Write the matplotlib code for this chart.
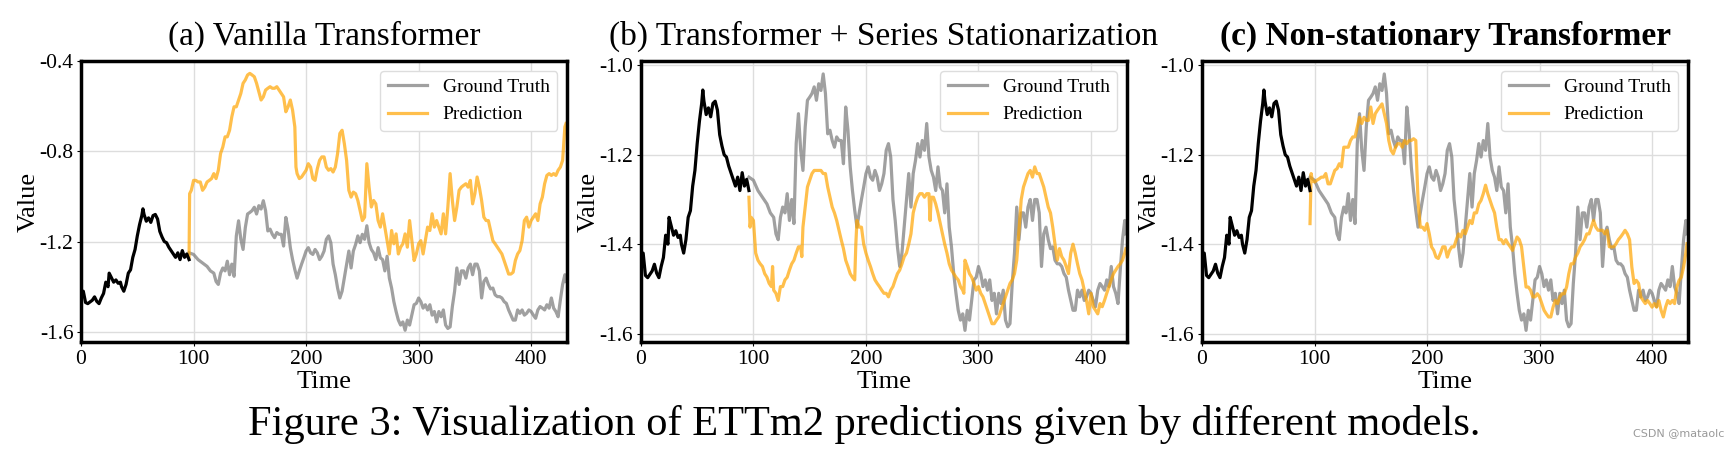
import numpy as np
import matplotlib
matplotlib.use('Agg')
import matplotlib.pyplot as plt

# input window (black), shared by all three panels
in_t = [0, 2, 4, 6, 10, 12, 14, 16, 18, 20, 22, 24, 25, 27, 29, 31, 33, 35, 36, 38,
        40, 42, 44, 46, 48, 50, 52, 54, 55, 56, 58, 60, 62, 64, 66, 68, 70, 72, 74, 76,
        78, 80, 82, 84, 86, 88, 90, 92, 94, 96]
in_v = [-1.42, -1.42, -1.47, -1.475, -1.46, -1.445, -1.465, -1.475, -1.45, -1.43,
        -1.38, -1.40, -1.34, -1.36, -1.38, -1.37, -1.385, -1.38, -1.40, -1.42,
        -1.39, -1.34, -1.325, -1.27, -1.235, -1.175, -1.125, -1.085, -1.055, -1.08,
        -1.11, -1.095, -1.115, -1.085, -1.08, -1.10, -1.155, -1.18, -1.20, -1.205,
        -1.225, -1.24, -1.255, -1.27, -1.25, -1.28, -1.24, -1.27, -1.255, -1.28]

# ground truth (grey)
gt_t = [96, 100, 104, 108, 112, 115, 118, 120, 122, 124, 126, 128, 130, 132, 134, 136,
        138, 140, 142, 144, 146, 148, 150, 152, 154, 156, 158, 160, 162, 164, 166, 168,
        170, 172, 174, 176, 178, 180, 182, 184, 186, 188, 190, 192, 194, 196, 198, 200,
        202, 204, 206, 208, 210, 212, 214, 216, 218, 220, 222, 224, 226, 228, 230, 232,
        234, 236, 238, 240, 242, 244, 246, 248, 250, 252, 254, 256, 258, 260, 262, 264,
        266, 268, 270, 272, 274, 276, 278, 280, 282, 284, 286, 288, 290, 292, 294, 296,
        298, 300, 302, 304, 306, 308, 310, 312, 314, 316, 318, 320, 322, 324, 326, 328,
        330, 332, 334, 336, 338, 340, 342, 344, 346, 348, 350, 352, 354, 356, 358, 360,
        362, 364, 366, 368, 370, 372, 374, 376, 378, 380, 382, 384, 386, 388, 390, 392,
        394, 396, 398, 400, 402, 404, 406, 408, 410, 412, 414, 416, 418, 420, 422, 424,
        426, 428, 430, 431]
gt_v = [-1.25, -1.257, -1.28, -1.295, -1.31, -1.33, -1.34, -1.377, -1.39, -1.34,
        -1.317, -1.33, -1.287, -1.347, -1.30, -1.354, -1.175, -1.108, -1.19, -1.235,
        -1.138, -1.078, -1.071, -1.063, -1.048, -1.078, -1.041, -1.056, -1.019, -1.063,
        -1.153, -1.145, -1.168, -1.183, -1.16, -1.168, -1.168, -1.22, -1.093, -1.145,
        -1.227, -1.28, -1.324, -1.362, -1.33, -1.30, -1.272, -1.242, -1.227, -1.25,
        -1.257, -1.235, -1.25, -1.28, -1.265, -1.242, -1.19, -1.175, -1.205, -1.30,
        -1.347, -1.406, -1.45, -1.42, -1.36, -1.30, -1.242, -1.317, -1.242, -1.213,
        -1.175, -1.205, -1.168, -1.19, -1.13, -1.205, -1.235, -1.25, -1.28, -1.227,
        -1.272, -1.28, -1.33, -1.265, -1.362, -1.406, -1.466, -1.51, -1.548, -1.57,
        -1.556, -1.593, -1.548, -1.57, -1.526, -1.48, -1.474, -1.45, -1.466, -1.495,
        -1.48, -1.503, -1.48, -1.526, -1.51, -1.556, -1.51, -1.533, -1.503, -1.57,
        -1.585, -1.578, -1.488, -1.42, -1.317, -1.39, -1.33, -1.33, -1.362, -1.317,
        -1.30, -1.347, -1.30, -1.30, -1.33, -1.45, -1.377, -1.362, -1.39, -1.41,
        -1.406, -1.436, -1.444, -1.444, -1.45, -1.466, -1.474, -1.503, -1.526, -1.548,
        -1.548, -1.503, -1.518, -1.503, -1.526, -1.518, -1.503, -1.51, -1.526, -1.54,
        -1.503, -1.488, -1.495, -1.503, -1.48, -1.495, -1.45, -1.495, -1.51, -1.533,
        -1.458, -1.39, -1.347, -1.377]

# (a) Vanilla Transformer prediction
pa_t = [96, 96.5, 98, 100, 102, 104, 106, 108, 110, 112, 114, 116, 118, 120, 122, 124,
        126, 128, 130, 132, 134, 136, 138, 140, 142, 144, 146, 148, 150, 152, 154, 156,
        158, 160, 162, 164, 166, 168, 170, 172, 174, 176, 178, 180, 182, 184, 186, 188,
        190, 191, 192, 194, 196, 198, 200, 202, 204, 206, 208, 210, 212, 214, 216, 218,
        220, 222, 224, 226, 228, 230, 232, 234, 236, 238, 240, 242, 244, 246, 248, 250,
        252, 253, 254, 256, 258, 260, 262, 264, 266, 268, 270, 272, 274, 276, 278, 280,
        282, 284, 286, 288, 290, 292, 294, 296, 298, 300, 302, 304, 306, 308, 310, 312,
        314, 316, 318, 320, 322, 324, 326, 328, 330, 332, 334, 336, 338, 340, 342, 344,
        346, 348, 350, 352, 354, 356, 358, 360, 362, 364, 366, 368, 370, 372, 374, 376,
        378, 380, 382, 384, 386, 388, 390, 392, 394, 396, 398, 400, 402, 404, 406, 408,
        410, 412, 414, 416, 418, 420, 422, 424, 426, 428, 430, 431]
pa_v = [-1.27, -0.988, -0.973, -0.929, -0.929, -0.936, -0.936, -0.973, -0.959, -0.936,
        -0.929, -0.921, -0.899, -0.921, -0.884, -0.81, -0.781, -0.736, -0.736, -0.707,
        -0.647, -0.603, -0.603, -0.573, -0.544, -0.499, -0.484, -0.462, -0.455, -0.462,
        -0.47, -0.499, -0.536, -0.573, -0.559, -0.529, -0.521, -0.514, -0.521, -0.521,
        -0.514, -0.529, -0.544, -0.559, -0.625, -0.603, -0.573, -0.618, -0.692, -0.87,
        -0.899, -0.921, -0.914, -0.899, -0.884, -0.855, -0.87, -0.921, -0.929, -0.877,
        -0.84, -0.825, -0.825, -0.87, -0.884, -0.877, -0.892, -0.87, -0.81, -0.721,
        -0.707, -0.766, -0.84, -0.973, -1.003, -0.981, -0.988, -1.018, -1.062, -1.107,
        -1.092, -0.973, -0.855, -0.959, -1.047, -1.018, -1.033, -1.107, -1.136, -1.077,
        -1.136, -1.196, -1.255, -1.151, -1.21, -1.166, -1.255, -1.225, -1.21, -1.166,
        -1.225, -1.107, -1.196, -1.284, -1.255, -1.21, -1.196, -1.255, -1.196, -1.136,
        -1.151, -1.077, -1.136, -1.107, -1.136, -1.166, -1.077, -1.166, -1.047, -0.899,
        -1.018, -1.107, -1.047, -0.973, -0.959, -0.951, -0.944, -0.959, -0.929, -1.033,
        -0.988, -0.914, -0.959, -1.018, -1.092, -1.107, -1.107, -1.151, -1.196, -1.21,
        -1.225, -1.24, -1.255, -1.284, -1.314, -1.344, -1.344, -1.336, -1.284, -1.255,
        -1.24, -1.196, -1.107, -1.092, -1.136, -1.107, -1.092, -1.077, -1.107, -1.033,
        -1.003, -0.944, -0.907, -0.899, -0.907, -0.899, -0.907, -0.884, -0.87, -0.84,
        -0.692, -0.677]

# (b) Transformer + Series Stationarization prediction
pb_t = [96, 97, 98, 100, 102, 104, 106, 108, 110, 112, 114, 116, 117, 118, 120, 122,
        124, 126, 128, 130, 132, 134, 136, 138, 140, 142, 143, 144, 146, 148, 150, 152,
        154, 156, 158, 160, 162, 164, 166, 168, 170, 172, 174, 176, 178, 180, 182, 184,
        186, 188, 190, 191, 192, 194, 196, 198, 200, 202, 204, 206, 208, 210, 212, 214,
        216, 218, 220, 222, 224, 226, 228, 230, 232, 234, 236, 238, 240, 242, 244, 246,
        248, 250, 252, 254, 256, 257, 258, 260, 262, 264, 266, 268, 270, 272, 274, 276,
        278, 280, 282, 284, 286, 287, 288, 290, 292, 294, 296, 298, 300, 302, 304, 306,
        308, 310, 312, 314, 316, 318, 320, 322, 324, 326, 328, 330, 332, 334, 336, 338,
        340, 342, 344, 346, 348, 350, 352, 354, 356, 358, 360, 362, 364, 366, 368, 370,
        372, 374, 376, 378, 380, 382, 384, 386, 388, 390, 392, 394, 396, 398, 400, 402,
        404, 406, 408, 410, 412, 414, 416, 418, 420, 422, 424, 426, 428, 430, 431]
pb_v = [-1.295, -1.362, -1.34, -1.347, -1.42, -1.436, -1.444, -1.45, -1.466, -1.474,
        -1.488, -1.495, -1.45, -1.503, -1.51, -1.526, -1.495, -1.495, -1.48, -1.474,
        -1.458, -1.444, -1.436, -1.42, -1.406, -1.406, -1.428, -1.362, -1.317, -1.272,
        -1.257, -1.242, -1.235, -1.235, -1.235, -1.235, -1.242, -1.242, -1.272, -1.295,
        -1.317, -1.33, -1.347, -1.369, -1.39, -1.41, -1.436, -1.45, -1.466, -1.474,
        -1.48, -1.40, -1.347, -1.362, -1.362, -1.40, -1.42, -1.436, -1.45, -1.466,
        -1.48, -1.488, -1.495, -1.503, -1.51, -1.51, -1.518, -1.503, -1.495, -1.48,
        -1.466, -1.458, -1.444, -1.428, -1.42, -1.40, -1.377, -1.33, -1.31, -1.295,
        -1.287, -1.287, -1.295, -1.287, -1.287, -1.347, -1.295, -1.295, -1.31, -1.33,
        -1.354, -1.377, -1.40, -1.42, -1.444, -1.458, -1.466, -1.474, -1.48, -1.495,
        -1.503, -1.51, -1.436, -1.45, -1.466, -1.474, -1.488, -1.503, -1.495, -1.51,
        -1.518, -1.533, -1.548, -1.563, -1.578, -1.578, -1.57, -1.563, -1.548, -1.533,
        -1.518, -1.503, -1.488, -1.48, -1.466, -1.436, -1.369, -1.30, -1.272, -1.257,
        -1.242, -1.235, -1.25, -1.227, -1.242, -1.242, -1.257, -1.272, -1.295, -1.317,
        -1.33, -1.362, -1.40, -1.436, -1.41, -1.428, -1.436, -1.45, -1.466, -1.42,
        -1.40, -1.42, -1.444, -1.466, -1.48, -1.503, -1.526, -1.556, -1.51, -1.54,
        -1.548, -1.556, -1.533, -1.54, -1.526, -1.51, -1.495, -1.48, -1.466, -1.458,
        -1.45, -1.444, -1.436, -1.42, -1.41]

# (c) Non-stationary Transformer prediction
pc_t = [96, 97, 98, 100, 102, 104, 106, 108, 110, 112, 114, 116, 118, 120, 122, 124,
        126, 128, 130, 132, 134, 136, 138, 140, 142, 144, 146, 148, 150, 152, 154, 156,
        158, 160, 162, 164, 166, 168, 170, 172, 174, 176, 178, 180, 182, 184, 186, 188,
        190, 192, 194, 196, 198, 200, 202, 204, 206, 208, 210, 212, 214, 216, 218, 220,
        222, 224, 226, 228, 230, 232, 234, 236, 238, 240, 242, 244, 246, 248, 250, 252,
        254, 256, 258, 260, 262, 264, 266, 268, 270, 272, 274, 276, 278, 280, 282, 284,
        286, 288, 290, 292, 294, 296, 298, 300, 302, 304, 306, 308, 310, 312, 314, 316,
        318, 320, 322, 324, 326, 328, 330, 332, 334, 336, 338, 340, 342, 344, 346, 348,
        350, 352, 354, 356, 358, 360, 362, 364, 366, 368, 370, 372, 374, 376, 378, 380,
        382, 384, 386, 388, 390, 392, 394, 396, 398, 400, 402, 404, 406, 408, 410, 412,
        414, 416, 418, 420, 422, 424, 426, 428, 430, 431]
pc_v = [-1.354, -1.242, -1.257, -1.261, -1.257, -1.254, -1.25, -1.25, -1.242, -1.265,
        -1.265, -1.25, -1.235, -1.231, -1.22, -1.227, -1.183, -1.183, -1.183, -1.168,
        -1.16, -1.16, -1.138, -1.116, -1.13, -1.116, -1.123, -1.123, -1.093, -1.13,
        -1.108, -1.10, -1.093, -1.086, -1.108, -1.13, -1.168, -1.19, -1.198, -1.183,
        -1.175, -1.175, -1.183, -1.168, -1.175, -1.168, -1.168, -1.164, -1.168, -1.302,
        -1.362, -1.362, -1.369, -1.354, -1.377, -1.406, -1.414, -1.429, -1.432, -1.42,
        -1.406, -1.406, -1.429, -1.414, -1.406, -1.406, -1.39, -1.377, -1.384, -1.369,
        -1.377, -1.362, -1.347, -1.354, -1.33, -1.33, -1.31, -1.302, -1.287, -1.268,
        -1.287, -1.302, -1.317, -1.33, -1.362, -1.39, -1.39, -1.399, -1.39, -1.399,
        -1.406, -1.414, -1.399, -1.384, -1.39, -1.406, -1.451, -1.496, -1.496, -1.503,
        -1.518, -1.518, -1.511, -1.518, -1.533, -1.548, -1.556, -1.563, -1.563, -1.541,
        -1.526, -1.533, -1.518, -1.511, -1.511, -1.496, -1.466, -1.444, -1.444, -1.429,
        -1.42, -1.406, -1.399, -1.39, -1.377, -1.377, -1.362, -1.347, -1.362, -1.369,
        -1.369, -1.369, -1.377, -1.369, -1.406, -1.406, -1.406, -1.399, -1.39, -1.384,
        -1.377, -1.369, -1.377, -1.39, -1.451, -1.488, -1.481, -1.488, -1.518, -1.526,
        -1.533, -1.526, -1.533, -1.541, -1.533, -1.541, -1.526, -1.548, -1.563, -1.541,
        -1.526, -1.533, -1.526, -1.533, -1.496, -1.481, -1.474, -1.451, -1.42, -1.399]

titles = ['(a) Vanilla Transformer', '(b) Transformer + Series Stationarization',
          '(c) Non-stationary Transformer']
preds = [(pa_t, pa_v), (pb_t, pb_v), (pc_t, pc_v)]
yticks = [[-1.6, -1.2, -0.8, -0.4], [-1.6, -1.4, -1.2, -1.0], [-1.6, -1.4, -1.2, -1.0]]
ylims = [(-1.645, -0.4), (-1.619, -0.99), (-1.619, -0.99)]

plt.rcParams['font.family'] = ['Liberation Serif', 'DejaVu Serif']
plt.rcParams['axes.unicode_minus'] = False

fig = plt.figure(figsize=(17.28, 4.54), dpi=100)
lefts = [0.0469, 0.3709, 0.6956]

for i in range(3):
    ax = fig.add_axes([lefts[i], 0.2467, 0.2813, 0.619])
    ax.plot(gt_t, gt_v, color='grey', alpha=0.75, lw=2.3, label='Ground Truth')
    ax.plot(preds[i][0], preds[i][1], color='orange', alpha=0.7, lw=2.3, label='Prediction')
    ax.plot(in_t, in_v, color='black', lw=2.3)
    ax.set_xlim(0, 432)
    ax.set_ylim(*ylims[i])
    ax.set_xticks([0, 100, 200, 300, 400])
    ax.set_yticks(yticks[i])
    ax.set_yticklabels(['%.1f' % y for y in yticks[i]])
    ax.tick_params(labelsize=15.5, length=3, pad=2.5)
    ax.grid(True, color='#dddddd', lw=1)
    for s in ax.spines.values():
        s.set_linewidth(2.5)
    ax.set_xlabel('Time', fontsize=19, labelpad=2)
    ax.set_ylabel('Value', fontsize=19, labelpad=0)
    ax.set_title(titles[i], fontsize=24, pad=12,
                 fontweight='bold' if i == 2 else 'normal')
    ax.legend(loc='upper right', fontsize=14, framealpha=1, edgecolor='#dddddd')

fig.text(0.5, 0.065, 'Figure 3: Visualization of ETTm2 predictions given by different models.',
         ha='center', va='center', fontsize=30.5)
fig.text(0.998, 0.045, 'CSDN @mataolc', ha='right', va='center', fontsize=8,
         color='#999999', family=['DejaVu Sans'])

fig.savefig('out.png', dpi=100)
